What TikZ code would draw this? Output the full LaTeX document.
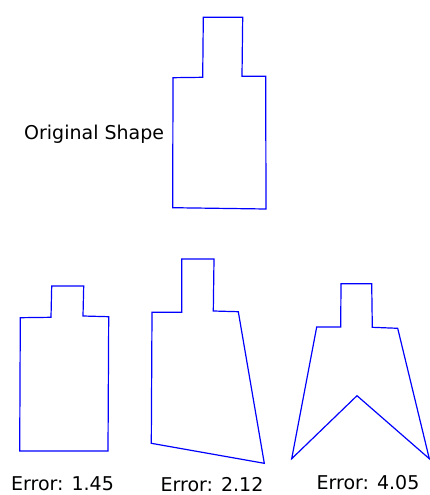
\documentclass[tikz,border=0pt]{standalone}
\usepackage{fontspec}
\setmainfont{DejaVu Sans}
\usepackage{tikz}

\tikzset{
  outline/.style={draw=blue, line width=1.2pt, line join=miter},
  caption/.style={inner sep=0pt, anchor=base, font=\fontsize{19}{22}\selectfont}
}

\begin{document}
\begin{tikzpicture}[x=1pt, y=-1pt]
    \useasboundingbox (0,0) rectangle (430,495);

    % original shape
    \draw[outline] (203.3,17.3) -- (242.7,17.3) -- (242,76.3) -- (265.7,76.3)
      -- (266,209) -- (172.7,207.7) -- (173,77.7) -- (202.7,77.3) -- cycle;
    \node[caption, anchor=base west] (orig) at (24,139) {Original Shape};

    % first approximation
    \draw[outline] (51.7,286) -- (83.7,286) -- (83,316) -- (108.7,316.7)
      -- (108,451) -- (19.7,451) -- (20.3,317.7) -- (51,317.3) -- cycle;
    \node[caption] (errA) at (62.5,490.5) {Error: 1.45};

    % second approximation
    \draw[outline] (181.7,259) -- (214,259) -- (213.3,311) -- (238.3,311.7)
      -- (264.3,463.3) -- (151.3,443.3) -- (152,312.3) -- (181.7,312.3) -- cycle;
    \node[caption] (errB) at (212,491.5) {Error: 2.12};

    % third approximation
    \draw[outline] (341,283.7) -- (371.7,283.7) -- (372.3,327.3) -- (397.7,328.3)
      -- (429.3,458.7) -- (357,395.7) -- (291.7,458.7) -- (316.7,327)
      -- (340.7,327) -- cycle;
    \node[caption] (errC) at (368,489.5) {Error: 4.05};
\end{tikzpicture}
\end{document}
